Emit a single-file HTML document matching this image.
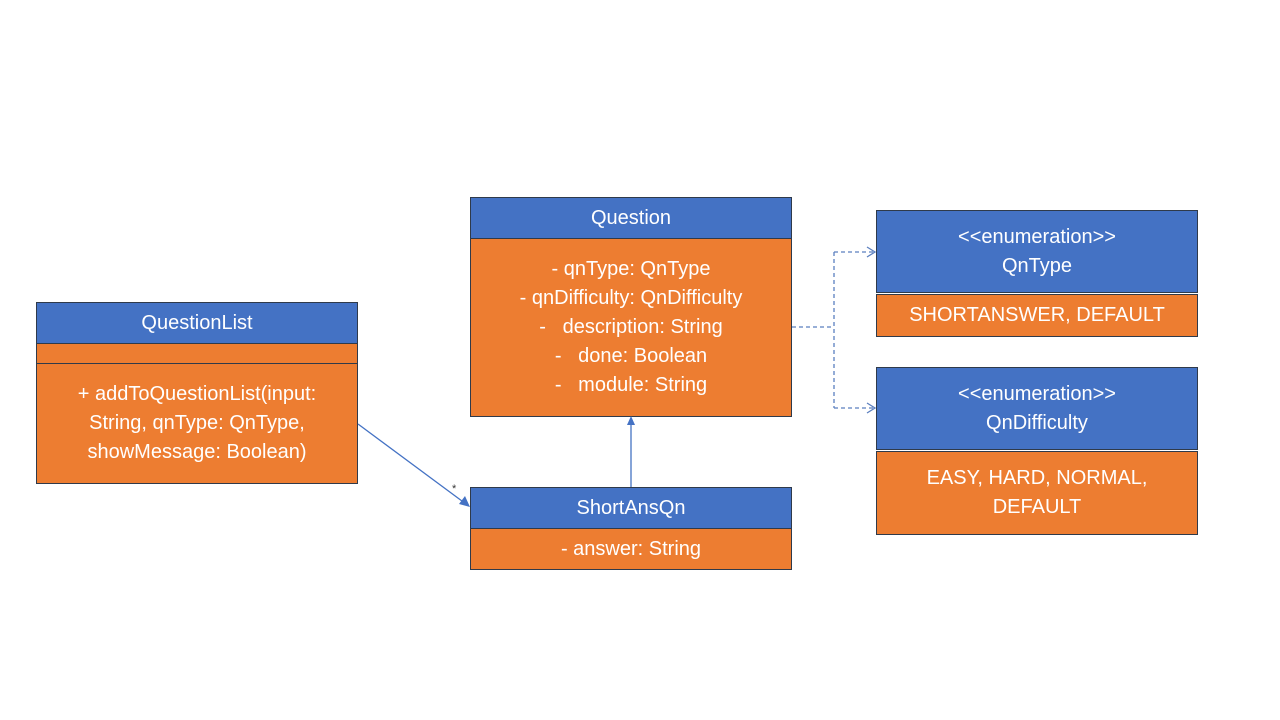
<!DOCTYPE html>
<html><head><style>
body{margin:0;width:1280px;height:720px;background:#fff;position:relative;font-family:"Liberation Sans","Noto Sans CJK SC",sans-serif;overflow:hidden}
.b{position:absolute;box-sizing:border-box;border:1px solid #2f3a4a;color:#fff;font-size:20px;text-align:center;display:flex;flex-direction:column;justify-content:center;line-height:29px}
.h{background:#4472c4}.o{background:#ed7d31}
</style></head><body>
<div class="b h" style="left:36px;top:302px;width:322px;height:42px">QuestionList</div>
<div class="b o" style="left:36px;top:343px;width:322px;height:21px"></div>
<div class="b o" style="left:36px;top:363px;width:322px;height:121px">+ addToQuestionList(input:<br>String, qnType: QnType,<br>showMessage: Boolean)</div>

<div class="b h" style="left:470px;top:197px;width:322px;height:42px">Question</div>
<div class="b o" style="left:470px;top:238px;width:322px;height:179px">- qnType: QnType<br>- qnDifficulty: QnDifficulty<br>-&nbsp;&nbsp;&nbsp;description: String<br>-&nbsp;&nbsp;&nbsp;done: Boolean<br>-&nbsp;&nbsp;&nbsp;module: String</div>

<div class="b h" style="left:470px;top:487px;width:322px;height:42px">ShortAnsQn</div>
<div class="b o" style="left:470px;top:528px;width:322px;height:42px">- answer: String</div>

<div class="b h" style="left:876px;top:210px;width:322px;height:83px">&lt;&lt;enumeration&gt;&gt;<br>QnType</div>
<div class="b o" style="left:876px;top:294px;width:322px;height:43px">SHORTANSWER, DEFAULT</div>

<div class="b h" style="left:876px;top:367px;width:322px;height:83px">&lt;&lt;enumeration&gt;&gt;<br>QnDifficulty</div>
<div class="b o" style="left:876px;top:451px;width:322px;height:84px">EASY, HARD, NORMAL,<br>DEFAULT</div>

<svg width="1280" height="720" style="position:absolute;left:0;top:0">
<g stroke="#4472c4" stroke-width="1.3" fill="none">
<line x1="358" y1="424" x2="466" y2="504"/>
<line x1="631" y1="487" x2="631" y2="424"/>
<g stroke-dasharray="4 3" stroke="#5b7fbf">
<line x1="792" y1="327" x2="834" y2="327"/>
<line x1="834" y1="252" x2="834" y2="408"/>
<line x1="834" y1="252" x2="875" y2="252"/>
<line x1="834" y1="408" x2="875" y2="408"/>
</g>
<polyline points="867,247 875,252 867,257" stroke="#5b7fbf"/>
<polyline points="867,403 875,408 867,413" stroke="#5b7fbf"/>
</g>
<polygon points="470,507 459,504 465,496" fill="#4472c4"/>
<polygon points="631,416 627,425 635,425" fill="#4472c4"/>
<text x="452" y="492" font-size="11" fill="#333" font-family="Liberation Sans">*</text>
</svg>
</body></html>
